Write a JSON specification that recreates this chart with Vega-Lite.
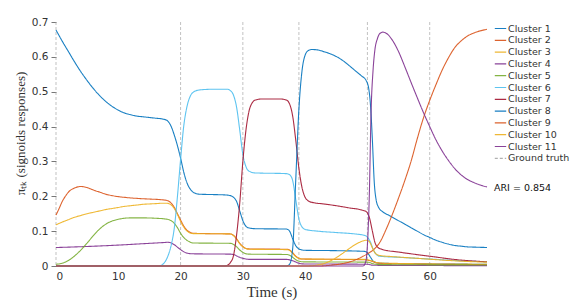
{
"$schema":"https://vega.github.io/schema/vega-lite/v6.json",
"width":431,"height":244,
"autosize":{"type":"none"},
"padding":{"left":56,"top":22,"right":94,"bottom":34},
"background":"white",
"config":{"view":{"stroke":null},"font":"DejaVu Sans"},
"datasets":{
"truth":[{"c":"Ground truth","t":0},{"c":"Ground truth","t":20},{"c":"Ground truth","t":30},{"c":"Ground truth","t":39},{"c":"Ground truth","t":50},{"c":"Ground truth","t":60}],
"curves":[
{"c":"Cluster 1","t":0,"v":0.677},{"c":"Cluster 1","t":1,"v":0.645},{"c":"Cluster 1","t":2,"v":0.615},{"c":"Cluster 1","t":3,"v":0.585},{"c":"Cluster 1","t":4,"v":0.557},{"c":"Cluster 1","t":5,"v":0.532},{"c":"Cluster 1","t":6,"v":0.509},{"c":"Cluster 1","t":7,"v":0.489},{"c":"Cluster 1","t":8,"v":0.472},{"c":"Cluster 1","t":9,"v":0.458},{"c":"Cluster 1","t":10,"v":0.447},{"c":"Cluster 1","t":11,"v":0.439},{"c":"Cluster 1","t":12,"v":0.434},{"c":"Cluster 1","t":13,"v":0.43},{"c":"Cluster 1","t":14,"v":0.428},{"c":"Cluster 1","t":15,"v":0.426},{"c":"Cluster 1","t":16,"v":0.424},{"c":"Cluster 1","t":17,"v":0.422},{"c":"Cluster 1","t":17.8,"v":0.418},{"c":"Cluster 1","t":18.5,"v":0.4},{"c":"Cluster 1","t":19,"v":0.375},{"c":"Cluster 1","t":19.5,"v":0.345},{"c":"Cluster 1","t":20,"v":0.31},{"c":"Cluster 1","t":20.5,"v":0.27},{"c":"Cluster 1","t":21,"v":0.24},{"c":"Cluster 1","t":21.5,"v":0.222},{"c":"Cluster 1","t":22,"v":0.212},{"c":"Cluster 1","t":23,"v":0.206},{"c":"Cluster 1","t":25,"v":0.205},{"c":"Cluster 1","t":27,"v":0.204},{"c":"Cluster 1","t":28,"v":0.202},{"c":"Cluster 1","t":28.5,"v":0.197},{"c":"Cluster 1","t":29,"v":0.185},{"c":"Cluster 1","t":29.5,"v":0.158},{"c":"Cluster 1","t":30,"v":0.13},{"c":"Cluster 1","t":30.5,"v":0.114},{"c":"Cluster 1","t":31,"v":0.109},{"c":"Cluster 1","t":32,"v":0.107},{"c":"Cluster 1","t":37,"v":0.106},{"c":"Cluster 1","t":37.5,"v":0.1},{"c":"Cluster 1","t":38,"v":0.078},{"c":"Cluster 1","t":38.5,"v":0.058},{"c":"Cluster 1","t":39,"v":0.049},{"c":"Cluster 1","t":39.5,"v":0.046},{"c":"Cluster 1","t":40,"v":0.045},{"c":"Cluster 1","t":45,"v":0.044},{"c":"Cluster 1","t":49.5,"v":0.042},{"c":"Cluster 1","t":50,"v":0.038},{"c":"Cluster 1","t":50.5,"v":0.025},{"c":"Cluster 1","t":51,"v":0.013},{"c":"Cluster 1","t":52,"v":0.008},{"c":"Cluster 1","t":60,"v":0.006},{"c":"Cluster 1","t":69.2,"v":0.005},

{"c":"Cluster 2","t":0,"v":0.146},{"c":"Cluster 2","t":0.5,"v":0.165},{"c":"Cluster 2","t":1,"v":0.185},{"c":"Cluster 2","t":1.5,"v":0.2},{"c":"Cluster 2","t":2,"v":0.212},{"c":"Cluster 2","t":3,"v":0.224},{"c":"Cluster 2","t":4,"v":0.228},{"c":"Cluster 2","t":5,"v":0.225},{"c":"Cluster 2","t":6,"v":0.218},{"c":"Cluster 2","t":7,"v":0.212},{"c":"Cluster 2","t":8,"v":0.206},{"c":"Cluster 2","t":9,"v":0.202},{"c":"Cluster 2","t":10,"v":0.199},{"c":"Cluster 2","t":11,"v":0.197},{"c":"Cluster 2","t":13,"v":0.194},{"c":"Cluster 2","t":15,"v":0.192},{"c":"Cluster 2","t":17,"v":0.19},{"c":"Cluster 2","t":18,"v":0.187},{"c":"Cluster 2","t":18.5,"v":0.18},{"c":"Cluster 2","t":19,"v":0.168},{"c":"Cluster 2","t":19.5,"v":0.15},{"c":"Cluster 2","t":20,"v":0.132},{"c":"Cluster 2","t":20.5,"v":0.115},{"c":"Cluster 2","t":21,"v":0.103},{"c":"Cluster 2","t":21.5,"v":0.097},{"c":"Cluster 2","t":22,"v":0.094},{"c":"Cluster 2","t":24,"v":0.093},{"c":"Cluster 2","t":28,"v":0.092},{"c":"Cluster 2","t":28.5,"v":0.088},{"c":"Cluster 2","t":29,"v":0.078},{"c":"Cluster 2","t":29.5,"v":0.065},{"c":"Cluster 2","t":30,"v":0.056},{"c":"Cluster 2","t":30.5,"v":0.05},{"c":"Cluster 2","t":31,"v":0.049},{"c":"Cluster 2","t":37,"v":0.048},{"c":"Cluster 2","t":37.5,"v":0.046},{"c":"Cluster 2","t":38,"v":0.038},{"c":"Cluster 2","t":38.5,"v":0.028},{"c":"Cluster 2","t":39,"v":0.022},{"c":"Cluster 2","t":39.5,"v":0.02},{"c":"Cluster 2","t":45,"v":0.019},{"c":"Cluster 2","t":49.5,"v":0.018},{"c":"Cluster 2","t":50.5,"v":0.015},{"c":"Cluster 2","t":51.5,"v":0.009},{"c":"Cluster 2","t":53,"v":0.007},{"c":"Cluster 2","t":69.2,"v":0.004},

{"c":"Cluster 3","t":0,"v":0.118},{"c":"Cluster 3","t":1,"v":0.126},{"c":"Cluster 3","t":2,"v":0.133},{"c":"Cluster 3","t":3,"v":0.14},{"c":"Cluster 3","t":4,"v":0.145},{"c":"Cluster 3","t":5,"v":0.15},{"c":"Cluster 3","t":6,"v":0.154},{"c":"Cluster 3","t":7,"v":0.158},{"c":"Cluster 3","t":8,"v":0.162},{"c":"Cluster 3","t":9,"v":0.165},{"c":"Cluster 3","t":10,"v":0.168},{"c":"Cluster 3","t":11,"v":0.171},{"c":"Cluster 3","t":12,"v":0.173},{"c":"Cluster 3","t":13,"v":0.175},{"c":"Cluster 3","t":14,"v":0.177},{"c":"Cluster 3","t":15,"v":0.178},{"c":"Cluster 3","t":16,"v":0.179},{"c":"Cluster 3","t":17,"v":0.18},{"c":"Cluster 3","t":17.8,"v":0.18},{"c":"Cluster 3","t":18.5,"v":0.175},{"c":"Cluster 3","t":19,"v":0.165},{"c":"Cluster 3","t":19.5,"v":0.148},{"c":"Cluster 3","t":20,"v":0.128},{"c":"Cluster 3","t":20.5,"v":0.112},{"c":"Cluster 3","t":21,"v":0.101},{"c":"Cluster 3","t":21.5,"v":0.095},{"c":"Cluster 3","t":22,"v":0.093},{"c":"Cluster 3","t":28,"v":0.092},{"c":"Cluster 3","t":28.5,"v":0.087},{"c":"Cluster 3","t":29,"v":0.077},{"c":"Cluster 3","t":29.5,"v":0.064},{"c":"Cluster 3","t":30,"v":0.055},{"c":"Cluster 3","t":30.5,"v":0.05},{"c":"Cluster 3","t":31,"v":0.048},{"c":"Cluster 3","t":37,"v":0.047},{"c":"Cluster 3","t":37.5,"v":0.045},{"c":"Cluster 3","t":38,"v":0.036},{"c":"Cluster 3","t":38.5,"v":0.027},{"c":"Cluster 3","t":39,"v":0.022},{"c":"Cluster 3","t":39.5,"v":0.02},{"c":"Cluster 3","t":49.5,"v":0.019},{"c":"Cluster 3","t":50.5,"v":0.016},{"c":"Cluster 3","t":51.5,"v":0.01},{"c":"Cluster 3","t":53,"v":0.008},{"c":"Cluster 3","t":69.2,"v":0.005},

{"c":"Cluster 4","t":0,"v":0.053},{"c":"Cluster 4","t":5,"v":0.056},{"c":"Cluster 4","t":10,"v":0.06},{"c":"Cluster 4","t":14,"v":0.064},{"c":"Cluster 4","t":17,"v":0.067},{"c":"Cluster 4","t":18,"v":0.068},{"c":"Cluster 4","t":18.5,"v":0.066},{"c":"Cluster 4","t":19,"v":0.061},{"c":"Cluster 4","t":19.5,"v":0.054},{"c":"Cluster 4","t":20,"v":0.047},{"c":"Cluster 4","t":20.5,"v":0.041},{"c":"Cluster 4","t":21,"v":0.037},{"c":"Cluster 4","t":22,"v":0.035},{"c":"Cluster 4","t":28,"v":0.034},{"c":"Cluster 4","t":28.5,"v":0.033},{"c":"Cluster 4","t":29,"v":0.029},{"c":"Cluster 4","t":29.5,"v":0.025},{"c":"Cluster 4","t":30,"v":0.022},{"c":"Cluster 4","t":30.5,"v":0.02},{"c":"Cluster 4","t":31,"v":0.019},{"c":"Cluster 4","t":37,"v":0.019},{"c":"Cluster 4","t":38,"v":0.015},{"c":"Cluster 4","t":39,"v":0.008},{"c":"Cluster 4","t":39.5,"v":0.006},{"c":"Cluster 4","t":50,"v":0.005},{"c":"Cluster 4","t":51,"v":0.002},{"c":"Cluster 4","t":69.2,"v":0.001},

{"c":"Cluster 5","t":0,"v":0.005},{"c":"Cluster 5","t":1,"v":0.008},{"c":"Cluster 5","t":2,"v":0.016},{"c":"Cluster 5","t":3,"v":0.029},{"c":"Cluster 5","t":4,"v":0.046},{"c":"Cluster 5","t":5,"v":0.066},{"c":"Cluster 5","t":6,"v":0.087},{"c":"Cluster 5","t":7,"v":0.106},{"c":"Cluster 5","t":8,"v":0.12},{"c":"Cluster 5","t":9,"v":0.129},{"c":"Cluster 5","t":10,"v":0.134},{"c":"Cluster 5","t":11,"v":0.137},{"c":"Cluster 5","t":12,"v":0.138},{"c":"Cluster 5","t":14,"v":0.138},{"c":"Cluster 5","t":16,"v":0.137},{"c":"Cluster 5","t":17.5,"v":0.135},{"c":"Cluster 5","t":18.5,"v":0.13},{"c":"Cluster 5","t":19,"v":0.122},{"c":"Cluster 5","t":19.5,"v":0.11},{"c":"Cluster 5","t":20,"v":0.094},{"c":"Cluster 5","t":20.5,"v":0.082},{"c":"Cluster 5","t":21,"v":0.074},{"c":"Cluster 5","t":21.5,"v":0.069},{"c":"Cluster 5","t":22,"v":0.066},{"c":"Cluster 5","t":28,"v":0.065},{"c":"Cluster 5","t":28.5,"v":0.062},{"c":"Cluster 5","t":29,"v":0.055},{"c":"Cluster 5","t":29.5,"v":0.046},{"c":"Cluster 5","t":30,"v":0.039},{"c":"Cluster 5","t":30.5,"v":0.035},{"c":"Cluster 5","t":31,"v":0.034},{"c":"Cluster 5","t":37,"v":0.033},{"c":"Cluster 5","t":37.5,"v":0.031},{"c":"Cluster 5","t":38,"v":0.025},{"c":"Cluster 5","t":38.5,"v":0.018},{"c":"Cluster 5","t":39,"v":0.014},{"c":"Cluster 5","t":39.5,"v":0.012},{"c":"Cluster 5","t":50,"v":0.011},{"c":"Cluster 5","t":51,"v":0.006},{"c":"Cluster 5","t":52,"v":0.004},{"c":"Cluster 5","t":69.2,"v":0.003},

{"c":"Cluster 6","t":0,"v":0},{"c":"Cluster 6","t":16.5,"v":0},{"c":"Cluster 6","t":17,"v":0.003},{"c":"Cluster 6","t":17.5,"v":0.012},{"c":"Cluster 6","t":18,"v":0.03},{"c":"Cluster 6","t":18.5,"v":0.06},{"c":"Cluster 6","t":19,"v":0.11},{"c":"Cluster 6","t":19.5,"v":0.2},{"c":"Cluster 6","t":20,"v":0.305},{"c":"Cluster 6","t":20.5,"v":0.4},{"c":"Cluster 6","t":21,"v":0.455},{"c":"Cluster 6","t":21.5,"v":0.485},{"c":"Cluster 6","t":22,"v":0.498},{"c":"Cluster 6","t":23,"v":0.505},{"c":"Cluster 6","t":25,"v":0.507},{"c":"Cluster 6","t":27.5,"v":0.507},{"c":"Cluster 6","t":28,"v":0.503},{"c":"Cluster 6","t":28.5,"v":0.49},{"c":"Cluster 6","t":29,"v":0.455},{"c":"Cluster 6","t":29.5,"v":0.39},{"c":"Cluster 6","t":30,"v":0.32},{"c":"Cluster 6","t":30.5,"v":0.285},{"c":"Cluster 6","t":31,"v":0.272},{"c":"Cluster 6","t":32,"v":0.267},{"c":"Cluster 6","t":37,"v":0.265},{"c":"Cluster 6","t":37.5,"v":0.262},{"c":"Cluster 6","t":38,"v":0.245},{"c":"Cluster 6","t":38.5,"v":0.19},{"c":"Cluster 6","t":39,"v":0.135},{"c":"Cluster 6","t":39.5,"v":0.112},{"c":"Cluster 6","t":40,"v":0.105},{"c":"Cluster 6","t":42,"v":0.1},{"c":"Cluster 6","t":45,"v":0.096},{"c":"Cluster 6","t":48,"v":0.092},{"c":"Cluster 6","t":49.5,"v":0.088},{"c":"Cluster 6","t":50,"v":0.083},{"c":"Cluster 6","t":50.5,"v":0.068},{"c":"Cluster 6","t":51,"v":0.045},{"c":"Cluster 6","t":51.5,"v":0.032},{"c":"Cluster 6","t":52,"v":0.028},{"c":"Cluster 6","t":55,"v":0.025},{"c":"Cluster 6","t":60,"v":0.02},{"c":"Cluster 6","t":65,"v":0.015},{"c":"Cluster 6","t":69.2,"v":0.012},

{"c":"Cluster 7","t":0,"v":0},{"c":"Cluster 7","t":27,"v":0},{"c":"Cluster 7","t":27.5,"v":0.002},{"c":"Cluster 7","t":28,"v":0.01},{"c":"Cluster 7","t":28.5,"v":0.03},{"c":"Cluster 7","t":29,"v":0.09},{"c":"Cluster 7","t":29.5,"v":0.18},{"c":"Cluster 7","t":30,"v":0.3},{"c":"Cluster 7","t":30.5,"v":0.39},{"c":"Cluster 7","t":31,"v":0.445},{"c":"Cluster 7","t":31.5,"v":0.468},{"c":"Cluster 7","t":32,"v":0.476},{"c":"Cluster 7","t":33,"v":0.479},{"c":"Cluster 7","t":36,"v":0.479},{"c":"Cluster 7","t":37,"v":0.476},{"c":"Cluster 7","t":37.5,"v":0.465},{"c":"Cluster 7","t":38,"v":0.43},{"c":"Cluster 7","t":38.5,"v":0.36},{"c":"Cluster 7","t":39,"v":0.28},{"c":"Cluster 7","t":39.5,"v":0.225},{"c":"Cluster 7","t":40,"v":0.197},{"c":"Cluster 7","t":40.5,"v":0.187},{"c":"Cluster 7","t":41,"v":0.183},{"c":"Cluster 7","t":43,"v":0.178},{"c":"Cluster 7","t":45,"v":0.173},{"c":"Cluster 7","t":47,"v":0.167},{"c":"Cluster 7","t":49,"v":0.161},{"c":"Cluster 7","t":49.8,"v":0.156},{"c":"Cluster 7","t":50.3,"v":0.14},{"c":"Cluster 7","t":50.8,"v":0.1},{"c":"Cluster 7","t":51.2,"v":0.068},{"c":"Cluster 7","t":51.7,"v":0.053},{"c":"Cluster 7","t":52.5,"v":0.047},{"c":"Cluster 7","t":55,"v":0.04},{"c":"Cluster 7","t":60,"v":0.028},{"c":"Cluster 7","t":65,"v":0.017},{"c":"Cluster 7","t":69.2,"v":0.012},

{"c":"Cluster 8","t":0,"v":0},{"c":"Cluster 8","t":37,"v":0},{"c":"Cluster 8","t":37.5,"v":0.005},{"c":"Cluster 8","t":38,"v":0.05},{"c":"Cluster 8","t":38.5,"v":0.25},{"c":"Cluster 8","t":39,"v":0.45},{"c":"Cluster 8","t":39.5,"v":0.56},{"c":"Cluster 8","t":40,"v":0.605},{"c":"Cluster 8","t":40.5,"v":0.618},{"c":"Cluster 8","t":41,"v":0.621},{"c":"Cluster 8","t":42,"v":0.62},{"c":"Cluster 8","t":43,"v":0.615},{"c":"Cluster 8","t":44,"v":0.609},{"c":"Cluster 8","t":45,"v":0.601},{"c":"Cluster 8","t":46,"v":0.59},{"c":"Cluster 8","t":47,"v":0.576},{"c":"Cluster 8","t":48,"v":0.561},{"c":"Cluster 8","t":49,"v":0.546},{"c":"Cluster 8","t":49.8,"v":0.532},{"c":"Cluster 8","t":50.2,"v":0.51},{"c":"Cluster 8","t":50.5,"v":0.46},{"c":"Cluster 8","t":50.8,"v":0.36},{"c":"Cluster 8","t":51.1,"v":0.24},{"c":"Cluster 8","t":51.4,"v":0.19},{"c":"Cluster 8","t":51.8,"v":0.168},{"c":"Cluster 8","t":52.5,"v":0.155},{"c":"Cluster 8","t":53.5,"v":0.145},{"c":"Cluster 8","t":55,"v":0.13},{"c":"Cluster 8","t":56,"v":0.12},{"c":"Cluster 8","t":57,"v":0.11},{"c":"Cluster 8","t":58,"v":0.1},{"c":"Cluster 8","t":59,"v":0.09},{"c":"Cluster 8","t":60,"v":0.082},{"c":"Cluster 8","t":61,"v":0.074},{"c":"Cluster 8","t":62,"v":0.068},{"c":"Cluster 8","t":63,"v":0.063},{"c":"Cluster 8","t":64,"v":0.059},{"c":"Cluster 8","t":65,"v":0.057},{"c":"Cluster 8","t":66,"v":0.055},{"c":"Cluster 8","t":67.5,"v":0.054},{"c":"Cluster 8","t":69.2,"v":0.053},

{"c":"Cluster 9","t":0,"v":0},{"c":"Cluster 9","t":42,"v":0},{"c":"Cluster 9","t":44,"v":0.002},{"c":"Cluster 9","t":45,"v":0.004},{"c":"Cluster 9","t":46,"v":0.007},{"c":"Cluster 9","t":47,"v":0.011},{"c":"Cluster 9","t":48,"v":0.017},{"c":"Cluster 9","t":49,"v":0.025},{"c":"Cluster 9","t":50,"v":0.035},{"c":"Cluster 9","t":51,"v":0.047},{"c":"Cluster 9","t":52,"v":0.068},{"c":"Cluster 9","t":53,"v":0.105},{"c":"Cluster 9","t":54,"v":0.148},{"c":"Cluster 9","t":55,"v":0.195},{"c":"Cluster 9","t":56,"v":0.245},{"c":"Cluster 9","t":57,"v":0.3},{"c":"Cluster 9","t":58,"v":0.365},{"c":"Cluster 9","t":59,"v":0.425},{"c":"Cluster 9","t":60,"v":0.475},{"c":"Cluster 9","t":61,"v":0.52},{"c":"Cluster 9","t":62,"v":0.562},{"c":"Cluster 9","t":63,"v":0.597},{"c":"Cluster 9","t":64,"v":0.626},{"c":"Cluster 9","t":65,"v":0.645},{"c":"Cluster 9","t":66,"v":0.659},{"c":"Cluster 9","t":67,"v":0.668},{"c":"Cluster 9","t":68,"v":0.674},{"c":"Cluster 9","t":69.2,"v":0.679},

{"c":"Cluster 10","t":0,"v":0},{"c":"Cluster 10","t":40,"v":0},{"c":"Cluster 10","t":42,"v":0.003},{"c":"Cluster 10","t":43,"v":0.007},{"c":"Cluster 10","t":44,"v":0.014},{"c":"Cluster 10","t":45,"v":0.024},{"c":"Cluster 10","t":46,"v":0.036},{"c":"Cluster 10","t":47,"v":0.049},{"c":"Cluster 10","t":48,"v":0.061},{"c":"Cluster 10","t":49,"v":0.07},{"c":"Cluster 10","t":49.8,"v":0.074},{"c":"Cluster 10","t":50.3,"v":0.07},{"c":"Cluster 10","t":50.8,"v":0.052},{"c":"Cluster 10","t":51.3,"v":0.036},{"c":"Cluster 10","t":52,"v":0.03},{"c":"Cluster 10","t":54,"v":0.027},{"c":"Cluster 10","t":58,"v":0.022},{"c":"Cluster 10","t":62,"v":0.017},{"c":"Cluster 10","t":66,"v":0.013},{"c":"Cluster 10","t":69.2,"v":0.011},

{"c":"Cluster 11","t":0,"v":0},{"c":"Cluster 11","t":49.3,"v":0},{"c":"Cluster 11","t":49.7,"v":0.01},{"c":"Cluster 11","t":50,"v":0.06},{"c":"Cluster 11","t":50.3,"v":0.2},{"c":"Cluster 11","t":50.6,"v":0.45},{"c":"Cluster 11","t":50.9,"v":0.56},{"c":"Cluster 11","t":51.2,"v":0.62},{"c":"Cluster 11","t":51.6,"v":0.652},{"c":"Cluster 11","t":52,"v":0.667},{"c":"Cluster 11","t":52.5,"v":0.671},{"c":"Cluster 11","t":53,"v":0.668},{"c":"Cluster 11","t":54,"v":0.648},{"c":"Cluster 11","t":55,"v":0.615},{"c":"Cluster 11","t":56,"v":0.572},{"c":"Cluster 11","t":57,"v":0.527},{"c":"Cluster 11","t":58,"v":0.483},{"c":"Cluster 11","t":59,"v":0.44},{"c":"Cluster 11","t":60,"v":0.4},{"c":"Cluster 11","t":61,"v":0.362},{"c":"Cluster 11","t":62,"v":0.33},{"c":"Cluster 11","t":63,"v":0.303},{"c":"Cluster 11","t":64,"v":0.28},{"c":"Cluster 11","t":65,"v":0.262},{"c":"Cluster 11","t":66,"v":0.249},{"c":"Cluster 11","t":67,"v":0.24},{"c":"Cluster 11","t":68,"v":0.233},{"c":"Cluster 11","t":69.2,"v":0.227}
]},
"layer":[
{"data":{"name":"truth"},
 "mark":{"type":"rule","strokeWidth":0.7},
 "encoding":{
  "x":{"field":"t","type":"quantitative","scale":{"domain":[0,69.2],"nice":false,"zero":false}},
  "color":{"field":"c","type":"nominal","scale":{"domain":["Cluster 1","Cluster 2","Cluster 3","Cluster 4","Cluster 5","Cluster 6","Cluster 7","Cluster 8","Cluster 9","Cluster 10","Cluster 11","Ground truth"],"range":["#0072BD","#D95319","#EDB120","#7E2F8E","#77AC30","#4DBEEE","#A2142F","#0072BD","#D95319","#EDB120","#7E2F8E","#a8a8a8"]}},
  "strokeDash":{"field":"c","type":"nominal","scale":{"domain":["Cluster 1","Cluster 2","Cluster 3","Cluster 4","Cluster 5","Cluster 6","Cluster 7","Cluster 8","Cluster 9","Cluster 10","Cluster 11","Ground truth"],"range":[[1,0],[1,0],[1,0],[1,0],[1,0],[1,0],[1,0],[1,0],[1,0],[1,0],[1,0],[3,2]]}}
 }},
{"data":{"name":"curves"},
 "mark":{"type":"line","interpolate":"monotone","strokeWidth":1.1,"opacity":0.9},
 "encoding":{
  "x":{"field":"t","type":"quantitative","scale":{"domain":[0,69.2],"nice":false,"zero":false},
   "axis":{"values":[0,10,20,30,40,50,60],"grid":false,"domain":false,"ticks":false,"labelPadding":5,"labelFontSize":10.5,"labelColor":"#333","title":"Time (s)","titleFont":"Liberation Serif","titleFontSize":15,"titleFontWeight":"normal","titleColor":"#333","titlePadding":3}},
  "y":{"field":"v","type":"quantitative","scale":{"domain":[0,0.7],"nice":false},
   "axis":{"values":[0,0.1,0.2,0.3,0.4,0.5,0.6,0.7],"labelExpr":"datum.value==0?'0':format(datum.value,'.1f')","grid":false,"domain":false,"tickSize":5,"tickColor":"#777","labelPadding":3,"labelFontSize":10.5,"labelColor":"#333","title":"πₜₖ (signoids responses)","titleFont":"Liberation Serif","titleFontSize":13,"titleFontWeight":"normal","titleColor":"#333","titlePadding":4,"titleY":111}},
  "color":{"field":"c","type":"nominal",
   "legend":{"title":"ARI = 0.854","titleOrient":"bottom","titleFontWeight":"normal","titleFontSize":9.5,"titleColor":"#111","titlePadding":20,"symbolType":"stroke","symbolSize":130,"symbolStrokeWidth":1.2,"labelFontSize":9.5,"labelOffset":1,"labelColor":"#333","rowPadding":0.8,"offset":4,"padding":0}},
  "strokeDash":{"field":"c","type":"nominal",
   "legend":{"title":"ARI = 0.854","titleOrient":"bottom","titleFontWeight":"normal","titleFontSize":9.5,"titleColor":"#111","titlePadding":20,"symbolType":"stroke","symbolSize":130,"symbolStrokeWidth":1.2,"labelFontSize":9.5,"labelOffset":1,"labelColor":"#333","rowPadding":0.8,"offset":4,"padding":0}}
 }}
]
}
